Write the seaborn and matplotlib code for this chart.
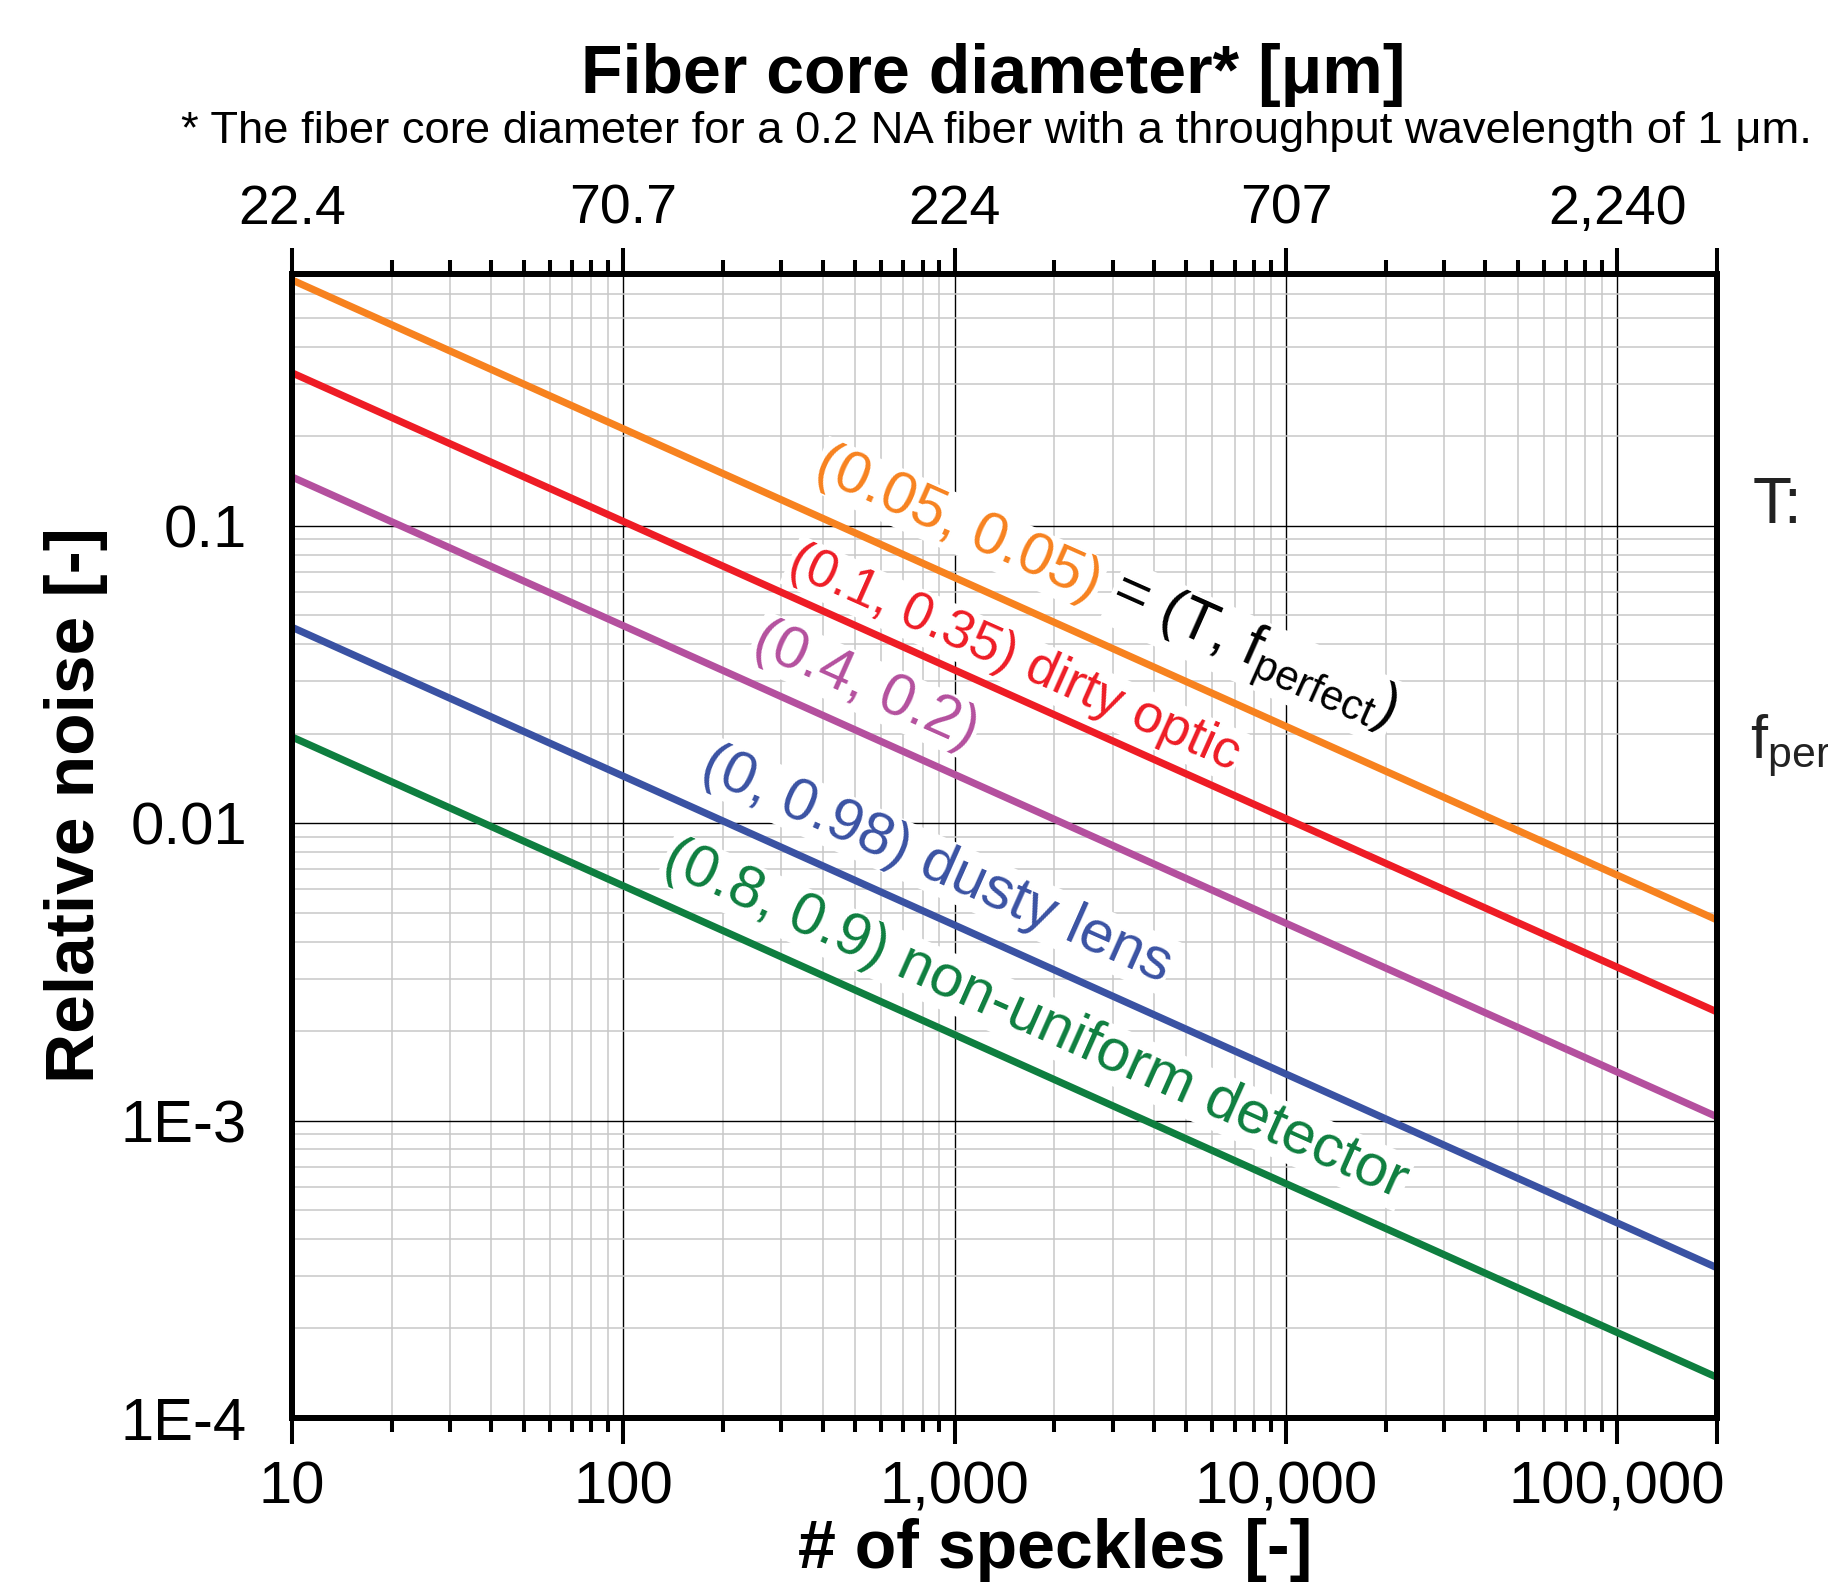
import numpy as np
import pandas as pd
import matplotlib
matplotlib.use("Agg")
import matplotlib.pyplot as plt
import seaborn as sns
from matplotlib.ticker import FixedLocator, FixedFormatter, LogLocator, NullFormatter

# ---------------- data ----------------
speckles = [10, 200000]
noise_orange = [0.671, 0.00473]
noise_red = [0.327, 0.00232]
noise_magenta = [0.146, 0.00103]
noise_blue = [0.0456, 0.00032]
noise_green = [0.0195, 0.000137]

series_names = ["(0.05, 0.05)", "(0.1, 0.35) dirty optic", "(0.4, 0.2)",
                "(0, 0.98) dusty lens", "(0.8, 0.9) non-uniform detector"]
series_colors = ["#F7821F", "#EE1C25", "#B4509E", "#3A52A3", "#0E7E3F"]

x_major = [10, 100, 1000, 10000, 100000]
x_labels = ["10", "100", "1,000", "10,000", "100,000"]
top_labels = ["22.4", "70.7", "224", "707", "2,240"]
y_major = [1e-4, 1e-3, 1e-2, 1e-1]
y_labels = ["1E-4", "1E-3", "0.01", "0.1"]
x_end = 200000

# label positions (data coords) and sizes for the in-plot annotations
label_x = [1028, 1517, 538, 883, 1754]
label_y = [0.1009, 0.0357, 0.029, 0.00723, 0.00217]
label_size = [43, 38.5, 43, 43, 43]

df = pd.concat([
    pd.DataFrame({"speckles": speckles, "noise": vals, "series": name})
    for name, vals in zip(series_names,
                          [noise_orange, noise_red, noise_magenta, noise_blue, noise_green])
], ignore_index=True)

# ---------------- style ----------------
sns.set_theme(style="white")
plt.rcParams["font.family"] = ["Liberation Sans", "DejaVu Sans"]
plt.rcParams["mathtext.default"] = "regular"
plt.rcParams["text.color"] = "black"
plt.rcParams["axes.labelcolor"] = "black"
plt.rcParams["xtick.color"] = "black"
plt.rcParams["ytick.color"] = "black"

W, H = 1828, 1590
fig = plt.figure(figsize=(W / 100, H / 100), dpi=100)
ax_l, ax_r, ax_t, ax_b = 292, 1717, 274, 1418
ax = fig.add_axes([ax_l / W, 1 - ax_b / H, (ax_r - ax_l) / W, (ax_b - ax_t) / H])

ax.set_xscale("log")
ax.set_yscale("log")

sns.lineplot(data=df, x="speckles", y="noise", hue="series", hue_order=series_names,
             palette=series_colors, linewidth=5.2, legend=False, ax=ax, zorder=3)

ax.set_xlim(10, x_end)
ax.set_ylim(1e-4, 0.703)

ax.xaxis.set_major_locator(FixedLocator(x_major + [x_end]))
ax.xaxis.set_major_formatter(FixedFormatter(x_labels + [""]))
ax.xaxis.set_minor_locator(LogLocator(base=10, subs=np.arange(2, 10), numticks=50))
ax.xaxis.set_minor_formatter(NullFormatter())
ax.yaxis.set_major_locator(FixedLocator(y_major))
ax.yaxis.set_major_formatter(FixedFormatter(y_labels))
ax.yaxis.set_minor_locator(LogLocator(base=10, subs=np.arange(2, 10), numticks=50))
ax.yaxis.set_minor_formatter(NullFormatter())

ax.grid(which="minor", color="#c8c8c8", linewidth=1.1, zorder=0.5)
ax.grid(which="major", color="black", linewidth=1.0, zorder=0.6)
ax.set_axisbelow(True)

for s in ax.spines.values():
    s.set_linewidth(4.3)
    s.set_color("black")
    s.set_zorder(5)

ax.tick_params(axis="both", which="major", direction="out", length=18.5, width=2.9,
               color="black", labelsize=43, labelcolor="black")
ax.tick_params(axis="both", which="minor", direction="out", length=10, width=2.9,
               color="black")
ax.tick_params(axis="x", which="major", pad=12)
ax.tick_params(axis="y", which="major", pad=14)
ax.tick_params(axis="y", which="both", right=True, labelright=False)
for t in ax.yaxis.get_ticklines(minor=False)[1::2] + ax.yaxis.get_ticklines(minor=True)[1::2]:
    t.set_markersize(1.5)
for t in ax.xaxis.get_ticklines(minor=False) + ax.yaxis.get_ticklines(minor=False):
    t.set_solid_capstyle("round")
ax.set_xlabel("")
ax.set_ylabel("")

# top axis: fiber core diameter
axt = ax.twiny()
axt.set_xscale("log")
axt.set_xlim(ax.get_xlim())
axt.xaxis.set_major_locator(FixedLocator(x_major + [x_end]))
axt.xaxis.set_major_formatter(FixedFormatter(top_labels + [""]))
axt.xaxis.set_minor_locator(LogLocator(base=10, subs=np.arange(2, 10), numticks=50))
axt.xaxis.set_minor_formatter(NullFormatter())
axt.tick_params(axis="x", which="major", direction="out", length=18.5, width=2.9,
                labelsize=40, pad=9, labelcolor="black")
axt.tick_params(axis="x", which="minor", direction="out", length=10, width=2.9)
axt.grid(False)
for s in axt.spines.values():
    s.set_linewidth(4.3)
    s.set_color("black")

# in-plot annotations
bbox = dict(facecolor="white", edgecolor="none", pad=1.0)
for name, col, lx, ly, fs in zip(series_names, series_colors, label_x, label_y, label_size):
    ax.text(lx, ly, name, color=col, fontsize=fs, rotation=-24, rotation_mode="anchor",
            ha="center", va="center", bbox=bbox, zorder=2.5)
ax.text(7960, 0.0374, r"= (T, f$_{perfect}$)", color="black", fontsize=43, rotation=-24,
        rotation_mode="anchor", ha="center", va="center", bbox=bbox, zorder=2.5)

# titles and axis labels
fig.text(993 / W, 1 - 93 / H, "Fiber core diameter* [\u03bcm]", fontsize=49,
         fontweight="bold", ha="center", va="baseline")
fig.text(996 / W, 1 - 143 / H,
         "* The fiber core diameter for a 0.2 NA fiber with a throughput wavelength of 1 \u03bcm.",
         fontsize=32.7, ha="center", va="baseline")
fig.text(1055 / W, 1 - 1550 / H, "# of speckles [-]", fontsize=49, fontweight="bold",
         ha="center", va="center")
fig.text(76 / W, 1 - 805 / H, "Relative noise [-]", fontsize=50, fontweight="bold",
         ha="center", va="center", rotation=90)

# side legend text (cut by the right edge in the original)
fig.text(1753 / W, 1 - 523 / H, "T:", fontsize=46, ha="left", va="baseline",
         color="#222222")
fig.text(1750 / W, 1 - 758 / H, r"f$_{per}$", fontsize=44, ha="left", va="baseline",
         color="#222222")

fig.savefig("out.png", dpi=100)
